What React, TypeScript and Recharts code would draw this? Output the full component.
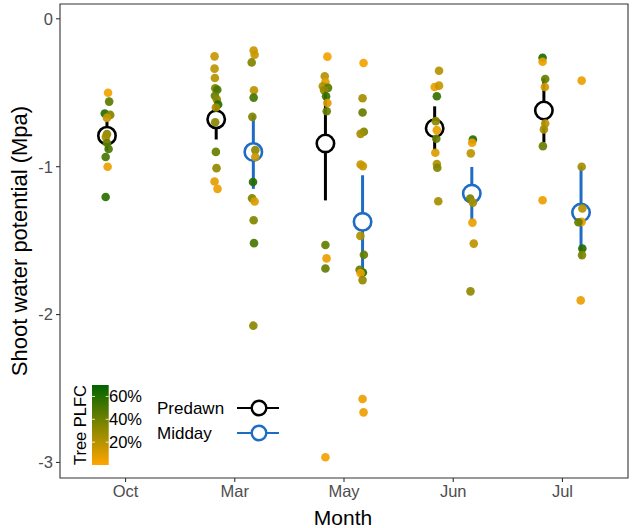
import { ComposedChart, Scatter, XAxis, YAxis, ErrorBar, ReferenceArea } from 'recharts'

// x categories
const months = ['Oct', 'Mar', 'May', 'Jun', 'Jul']
const yTicks = [0, -1, -2, -3]
const plfcTicks = [0.2, 0.4, 0.6]

// group means and standard errors (Mpa)
const predawnMean = [-0.79, -0.68, -0.843, -0.74, -0.62]
const predawnSE = [0.1, 0.136, 0.385, 0.148, 0.216]
const middayMean = [null, -0.9, -1.373, -1.182, -1.31]
const middaySE = [null, 0.25, 0.315, 0.18, 0.31]

// individual trees: [water potential, tree PLFC, jitter]
const octPredawn = [
  [-0.5, 0.03, 0.01], [-0.56, 0.45, 0.02], [-0.64, 0.6, -0.02], [-0.65, 0.35, 0.03],
  [-0.67, 0.15, 0], [-0.78, 0.32, 0], [-0.8, 0.25, -0.01], [-0.84, 0.42, 0],
  [-0.88, 0.5, 0.015], [-0.935, 0.5, -0.012], [-1.0, 0.05, 0.006], [-1.205, 0.58, -0.012],
]
const marPredawn = [
  [-0.254, 0.15, -0.015], [-0.337, 0.18, -0.015], [-0.4, 0.2, -0.012], [-0.47, 0.35, -0.009],
  [-0.48, 0.5, 0.01], [-0.52, 0.42, -0.012], [-0.546, 0.32, 0.006], [-0.58, 0.6, 0.018],
  [-0.6, 0.25, -0.003], [-0.7, 0.32, -0.009], [-0.9, 0.42, -0.003], [-1.01, 0.3, 0.003],
  [-1.1, 0.08, -0.015], [-1.15, 0.05, 0.012],
]
const marMidday = [
  [-0.214, 0.15, 0.003], [-0.243, 0.15, 0.012], [-0.295, 0.35, -0.015], [-0.483, 0.18, 0.006],
  [-0.533, 0.52, 0.003], [-0.663, 0.35, -0.009], [-0.888, 0.32, 0.018], [-0.935, 0.15, 0.018],
  [-1.104, 0.6, -0.003], [-1.214, 0.35, -0.012], [-1.235, 0.1, 0.012], [-1.362, 0.35, 0.003],
  [-1.517, 0.5, 0.006], [-2.075, 0.32, 0],
]
const mayPredawn = [
  [-0.256, 0.03, 0.018], [-0.389, 0.2, -0.006], [-0.427, 0.08, 0], [-0.456, 0.22, -0.024],
  [-0.467, 0.45, 0.024], [-0.483, 0.3, -0.012], [-0.524, 0.55, 0.006], [-0.569, 0.1, 0.018],
  [-0.625, 0.42, 0.012], [-1.53, 0.42, 0], [-1.62, 0.05, 0.01], [-1.688, 0.42, 0],
  [-2.965, 0.03, 0],
]
const mayMidday = [
  [-0.299, 0.03, 0.009], [-0.537, 0.25, 0], [-0.634, 0.42, 0], [-0.764, 0.35, 0.012],
  [-0.778, 0.25, -0.018], [-0.985, 0.15, -0.018], [-0.996, 0.15, 0.003], [-1.468, 0.22, -0.02],
  [-1.596, 0.42, 0.012], [-1.697, 0.42, -0.027], [-1.715, 0.6, 0.003], [-1.72, 0.05, -0.018],
  [-1.767, 0.3, 0], [-2.571, 0.05, 0], [-2.661, 0.05, 0.009],
]
const junPredawn = [
  [-0.351, 0.2, 0.04], [-0.461, 0.05, 0], [-0.452, 0.15, 0.04], [-0.524, 0.55, 0.02],
  [-0.692, 0.32, 0.01], [-0.753, 0.05, 0.02], [-0.811, 0.42, 0.015], [-0.906, 0.1, 0.006],
  [-0.982, 0.22, 0.02], [-1.007, 0.35, 0.024], [-1.234, 0.25, 0.033],
]
const junMidday = [
  [-0.816, 0.6, 0.01], [-0.838, 0.05, 0.003], [-0.91, 0.18, -0.009], [-1.216, 0.38, -0.015],
  [-1.243, 0.25, 0.01], [-1.378, 0.05, 0.006], [-1.52, 0.18, 0.018], [-1.843, 0.3, -0.012],
]
const julPredawn = [
  [-0.263, 0.62, -0.012], [-0.29, 0.05, -0.012], [-0.407, 0.42, 0.012], [-0.461, 0.12, 0.009],
  [-0.708, 0.18, 0.012], [-0.748, 0.25, 0], [-0.861, 0.42, -0.009], [-1.227, 0.05, -0.012],
]
const julMidday = [
  [-0.418, 0.05, 0.006], [-1.0, 0.25, 0.006], [-1.283, 0.2, 0.012], [-1.373, 0.05, 0.006],
  [-1.376, 0.42, -0.024], [-1.553, 0.6, 0.012], [-1.598, 0.35, 0.009], [-1.904, 0.05, -0.003],
]

const DODGE = 0.17
const PLFC_MAX = 0.7
const LOW = [255, 165, 0]
const HIGH = [0, 100, 0]
const BLUE = '#1f6cc4'
const FONT = '"Liberation Sans", Arial, sans-serif'

function plfcColor(v: number) {
  const t = Math.max(0, Math.min(1, v / PLFC_MAX))
  const c = LOW.map((l, i) => Math.round(l + (HIGH[i] - l) * t))
  return `rgb(${c[0]},${c[1]},${c[2]})`
}

const groups: [number[][], number, number][] = [
  [octPredawn, 0, -1], [marPredawn, 1, -1], [marMidday, 1, 1],
  [mayPredawn, 2, -1], [mayMidday, 2, 1], [junPredawn, 3, -1],
  [junMidday, 3, 1], [julPredawn, 4, -1], [julMidday, 4, 1],
]

const treePoints = groups.flatMap(([pts, m, side]) =>
  pts.map(([y, plfc, j]) => ({ x: m + side * DODGE + j, y, plfc }))
)

const predawnData = months.map((_, i) => ({ x: i - DODGE, y: predawnMean[i], err: predawnSE[i] }))
const middayData = months
  .map((_, i) => ({ x: i + DODGE, y: middayMean[i], err: middaySE[i] }))
  .filter((d) => d.y !== null)

const gradStops = [0, 0.25, 0.5, 0.75, 1]

export default function App() {
  return (
    <div style={{ position: 'absolute', left: 0, top: 0, width: 633, height: 528, background: '#fff', fontFamily: FONT }}>
      <ComposedChart width={633} height={528} margin={{ top: 4, right: 5, bottom: 0, left: 0 }}>
        <XAxis
          type="number"
          dataKey="x"
          domain={[-0.6, 4.6]}
          ticks={[0, 1, 2, 3, 4]}
          tickFormatter={(v: number) => months[v]}
          height={50}
          axisLine={false}
          tickLine={{ stroke: '#333', strokeWidth: 1.1 }}
          tickSize={4}
          tickMargin={3}
          tick={{ fill: '#4d4d4d', fontSize: 16.5, fontFamily: FONT }}
          allowDataOverflow
        />
        <YAxis
          type="number"
          dataKey="y"
          domain={[-3.105, 0.1]}
          ticks={yTicks}
          width={60}
          axisLine={false}
          tickLine={{ stroke: '#333', strokeWidth: 1.1 }}
          tickSize={4}
          tickMargin={3}
          tick={{ fill: '#4d4d4d', fontSize: 16.5, fontFamily: FONT }}
          allowDataOverflow
        />
        <ReferenceArea x1={-0.6} x2={4.6} y1={-3.105} y2={0.1} fill="none" stroke="#333" strokeWidth={1.1} />
        <Scatter data={predawnData} shape={() => <g />} isAnimationActive={false}>
          <ErrorBar dataKey="err" direction="y" width={0} strokeWidth={3} stroke="#000" isAnimationActive={false} />
        </Scatter>
        <Scatter data={middayData} shape={() => <g />} isAnimationActive={false}>
          <ErrorBar dataKey="err" direction="y" width={0} strokeWidth={3} stroke={BLUE} isAnimationActive={false} />
        </Scatter>
        <Scatter
          data={predawnData}
          isAnimationActive={false}
          shape={(p: any) => <circle cx={p.cx} cy={p.cy} r={8.7} fill="#fff" stroke="#000" strokeWidth={2.6} />}
        />
        <Scatter
          data={middayData}
          isAnimationActive={false}
          shape={(p: any) => <circle cx={p.cx} cy={p.cy} r={8.7} fill="#fff" stroke={BLUE} strokeWidth={2.6} />}
        />
        <Scatter
          data={treePoints}
          isAnimationActive={false}
          shape={(p: any) => (
            <circle cx={p.cx} cy={p.cy} r={4.3} fill={plfcColor(p.plfc ?? p.payload?.plfc)} fillOpacity={0.92} />
          )}
        />
      </ComposedChart>

      <svg width={633} height={528} style={{ position: 'absolute', left: 0, top: 0, pointerEvents: 'none' }}>
        <defs>
          <linearGradient id="plfc" x1="0" y1="1" x2="0" y2="0">
            {gradStops.map((s) => (
              <stop key={s} offset={s} stopColor={plfcColor(s * PLFC_MAX)} />
            ))}
          </linearGradient>
        </defs>
        <text x={19} y={241} transform="rotate(-90 19 241)" textAnchor="middle" dominantBaseline="central" fontSize={22} fill="#000" fontFamily={FONT}>
          Shoot water potential (Mpa)
        </text>
        <text x={343} y={517} textAnchor="middle" dominantBaseline="central" fontSize={21} fill="#000" fontFamily={FONT}>
          Month
        </text>

        {/* colour bar */}
        <text x={80} y={425} transform="rotate(-90 80 425)" textAnchor="middle" dominantBaseline="central" fontSize={16.5} fill="#000" fontFamily={FONT}>
          Tree PLFC
        </text>
        <rect x={92} y={385} width={16.7} height={80} fill="url(#plfc)" />
        {plfcTicks.map((t) => {
          const y = 465 - (t / PLFC_MAX) * 80
          return (
            <g key={t}>
              <line x1={92} x2={95} y1={y} y2={y} stroke="#fff" strokeWidth={0.8} />
              <line x1={105.7} x2={108.7} y1={y} y2={y} stroke="#fff" strokeWidth={0.8} />
              <text x={109} y={y} dominantBaseline="central" fontSize={16.5} fill="#000" fontFamily={FONT}>
                {Math.round(t * 100)}%
              </text>
            </g>
          )
        })}

        {/* period legend */}
        <text x={157} y={408} dominantBaseline="central" fontSize={17} fill="#000" fontFamily={FONT}>Predawn</text>
        <line x1={237} x2={279} y1={408} y2={408} stroke="#000" strokeWidth={1.8} />
        <circle cx={259} cy={408} r={7.3} fill="#fff" stroke="#000" strokeWidth={2.4} />
        <text x={157} y={433} dominantBaseline="central" fontSize={17} fill="#000" fontFamily={FONT}>Midday</text>
        <line x1={237} x2={279} y1={433} y2={433} stroke={BLUE} strokeWidth={1.8} />
        <circle cx={259} cy={433} r={7.3} fill="#fff" stroke={BLUE} strokeWidth={2.4} />
      </svg>
    </div>
  )
}
